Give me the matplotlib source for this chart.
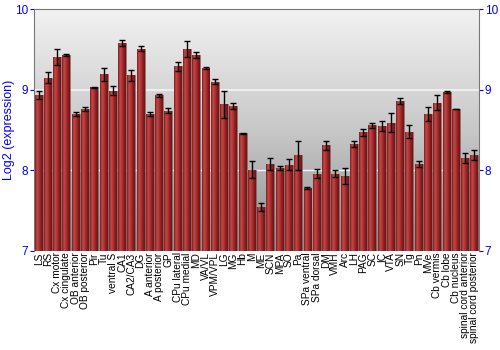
import matplotlib
matplotlib.use("Agg")
import matplotlib.pyplot as plt
import numpy as np
from matplotlib.colors import LinearSegmentedColormap

regions = ["LS", "RS", "Cx motor", "Cx cingulate", "OB anterior", "OB posterior",
           "Pir", "Tu", "ventral S", "CA1", "CA2/CA3", "DG", "A anterior",
           "A posterior", "GP", "CPu lateral", "CPu medial", "MD", "VA/VL",
           "VPM/VPL", "LG", "MG", "Hb", "M", "ME", "SCN", "MPA", "SO", "Pa",
           "SPa ventral", "SPa dorsal", "DM", "VMH", "Arc", "LH", "PAG", "SC",
           "IC", "VTA", "SN", "Tg", "Pn", "MVe", "Cb vermis", "Cb lobe",
           "Cb nucleus", "spinal cord anterior", "spinal cord posterior"]

expression = [8.93, 9.15, 9.41, 9.43, 8.70, 8.76, 9.03, 9.19, 8.99, 9.58,
              9.18, 9.51, 8.70, 8.93, 8.74, 9.29, 9.50, 9.43, 9.27, 9.10,
              8.82, 8.80, 8.46, 8.01, 7.55, 8.08, 8.03, 8.07, 8.19, 7.78,
              7.96, 8.31, 7.96, 7.93, 8.33, 8.47, 8.56, 8.55, 8.59, 8.86,
              8.48, 8.08, 8.70, 8.84, 8.97, 8.76, 8.15, 8.19]

errors = [0.05, 0.07, 0.10, 0.01, 0.025, 0.027, 0.005, 0.08, 0.06, 0.04,
          0.07, 0.027, 0.027, 0.015, 0.03, 0.055, 0.10, 0.04, 0.012, 0.035,
          0.17, 0.04, 0.005, 0.10, 0.05, 0.07, 0.02, 0.07, 0.18, 0.012,
          0.06, 0.054, 0.045, 0.10, 0.037, 0.045, 0.03, 0.064, 0.12, 0.037,
          0.077, 0.037, 0.087, 0.09, 0.012, 0.005, 0.062, 0.066]

yticks = [7, 8, 9, 10]

plt.rcParams['font.family'] = ['Liberation Sans', 'DejaVu Sans']

fig = plt.figure(figsize=(5, 3.5), dpi=100)
ax = fig.add_axes([0.068, 0.283, 0.89, 0.691])

x = np.arange(len(regions))

# fond en dégradé gris (clair en haut, foncé en bas)
bg = LinearSegmentedColormap.from_list("bg", ["#f2f2f2", "#c8c8c8", "#8e8e8e"])
grad = np.linspace(0, 1, 256).reshape(-1, 1)
ax.imshow(grad, cmap=bg, aspect="auto", extent=(0, 1, 0, 1),
          origin="upper", transform=ax.transAxes, zorder=0)

ax.axhline(9, color="#eeeeee", lw=1.5, zorder=1)
ax.axhline(8, color="#f4f4f4", lw=1.0, zorder=1)

# barres avec dégradé horizontal
bars = ax.bar(x, [e - 7 for e in expression], bottom=7, width=0.86,
              color="none", edgecolor="#7a5050", linewidth=0.5, zorder=2)
bar_cmap = LinearSegmentedColormap.from_list(
    "bar", ["#7e1a1a", "#c24a4a", "#b23434", "#8a2020", "#6e1414"])
hgrad = np.linspace(0, 1, 64).reshape(1, -1)
for b in bars:
    x0, w = b.get_x(), b.get_width()
    im = ax.imshow(hgrad, cmap=bar_cmap, aspect="auto",
                   extent=(x0, x0 + w, 7, b.get_y() + b.get_height()),
                   zorder=2)
    im.set_clip_path(b)

ax.errorbar(x, expression, yerr=errors, fmt="none", ecolor="black",
            elinewidth=1, capsize=2, capthick=1, zorder=4)

ax.set_xlim(-0.5, len(regions) - 0.5)
ax.set_ylim(7, 10)

ax.set_xticks(x)
ax.set_xticklabels(regions, rotation=90, fontsize=7.3)
ax.tick_params(axis="x", length=0, pad=1)

ax.set_yticks(yticks)
ax.set_yticklabels([str(t) for t in yticks])
ax.tick_params(axis="y", colors="#0000ff", labelsize=8.5, length=3,
               right=True, labelright=True, pad=1)
for t in ax.yaxis.get_ticklines():
    t.set_color("black")
ax.set_ylabel("Log2 (expression)", color="#0000ff", fontsize=9)
ax.yaxis.set_label_coords(-0.043, 0.5)

for s in ax.spines.values():
    s.set_color("#777777")
ax.spines["bottom"].set_visible(False)

fig.savefig("out.png", dpi=100)
